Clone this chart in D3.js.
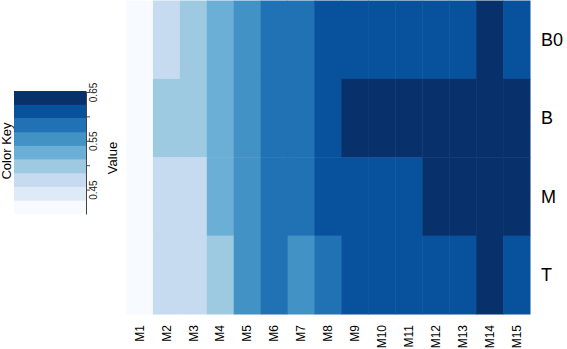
<!DOCTYPE html>
<html>
<head>
<meta charset="utf-8">
<script src="https://cdn.jsdelivr.net/npm/d3@7"></script>
<style>
  html, body { margin: 0; padding: 0; background: #fff; }
  svg { display: block; font-family: Arial, "Liberation Sans", sans-serif; }
</style>
</head>
<body>
<div id="chart"></div>
<script>
// Data: rows (top to bottom) x columns M1..M15
const columns = ['M1','M2','M3','M4','M5','M6','M7','M8','M9','M10','M11','M12','M13','M14','M15'];
const rows = ['B0', 'B', 'M', 'T'];

const valuesB0 = [0.41, 0.47, 0.50, 0.53, 0.555, 0.58, 0.585, 0.615, 0.62, 0.62, 0.62, 0.615, 0.615, 0.645, 0.62];
const valuesB  = [0.41, 0.50, 0.50, 0.53, 0.555, 0.58, 0.585, 0.615, 0.64, 0.64, 0.64, 0.64, 0.64, 0.65, 0.64];
const valuesM  = [0.41, 0.47, 0.47, 0.53, 0.555, 0.58, 0.585, 0.615, 0.62, 0.62, 0.62, 0.64, 0.64, 0.65, 0.64];
const valuesT  = [0.41, 0.47, 0.47, 0.50, 0.555, 0.58, 0.56, 0.585, 0.62, 0.62, 0.62, 0.62, 0.62, 0.645, 0.62];

const keyDomain = [0.40, 0.652];
const keyTicks = [0.45, 0.50, 0.55, 0.60, 0.65];
const keyTickLabels = ['0.45', '', '0.55', '', '0.65'];

const W = 567, H = 349;

const svg = d3.select('#chart').append('svg')
    .attr('width', W)
    .attr('height', H);

const color = d3.scaleQuantize()
    .domain(keyDomain)
    .range(d3.schemeBlues[9]);

// build cells table from the row arrays
const rowValues = [valuesB0, valuesB, valuesM, valuesT];
const cells = [];
rows.forEach((r, i) => {
    columns.forEach((c, j) => cells.push({ row: r, col: c, value: rowValues[i][j] }));
});

// Heatmap
const x = d3.scaleBand().domain(columns).range([126, 530]);
const y = d3.scaleBand().domain(rows).range([0.5, 314]);

svg.append('g')
    .selectAll('rect')
    .data(cells)
    .join('rect')
        .attr('x', d => x(d.col))
        .attr('y', d => y(d.row))
        .attr('width', x.bandwidth() + 0.5)
        .attr('height', y.bandwidth() + 0.5)
        .attr('fill', d => color(d.value));

// Column labels (rotated)
svg.append('g')
    .selectAll('text')
    .data(columns)
    .join('text')
        .attr('transform', d => `translate(${x(d) + x.bandwidth() / 2},325) rotate(-90)`)
        .attr('text-anchor', 'end')
        .attr('dy', '0.35em')
        .attr('font-size', '12px')
        .attr('fill', '#000')
        .text(d => d);

// Row labels
svg.append('g')
    .selectAll('text')
    .data(rows)
    .join('text')
        .attr('x', 541)
        .attr('y', d => y(d) + y.bandwidth() / 2)
        .attr('dy', '0.35em')
        .attr('font-size', '18px')
        .attr('fill', '#000')
        .text(d => d);

// Color key
const keyX = 14, keyW = 72;
const ky = d3.scaleLinear().domain(keyDomain).range([214, 91]);
const bins = color.range().map(c => color.invertExtent(c));

svg.append('g')
    .selectAll('rect')
    .data(bins)
    .join('rect')
        .attr('x', keyX)
        .attr('y', d => ky(d[1]))
        .attr('width', keyW)
        .attr('height', d => ky(d[0]) - ky(d[1]) + 0.3)
        .attr('fill', d => color((d[0] + d[1]) / 2));

const keyAxis = svg.append('g')
    .attr('transform', `translate(${keyX + keyW},0)`)
    .call(d3.axisRight(ky)
        .tickValues(keyTicks)
        .tickSize(4)
        .tickSizeOuter(0)
        .tickFormat((d, i) => keyTickLabels[i]));

keyAxis.select('.domain').attr('stroke', '#444').attr('stroke-width', 1);
keyAxis.selectAll('.tick line').attr('stroke', '#444');
keyAxis.selectAll('.tick text')
    .attr('font-size', '10px')
    .attr('font-family', 'Arial, "Liberation Sans", sans-serif')
    .attr('fill', '#222')
    .attr('x', 0)
    .attr('dy', 0)
    .attr('transform', 'translate(4,0) rotate(-90)')
    .attr('text-anchor', 'middle')
    .attr('dominant-baseline', 'hanging');

svg.append('text')
    .attr('transform', 'translate(112,158) rotate(-90)')
    .attr('text-anchor', 'middle')
    .attr('dy', '0.35em')
    .attr('font-size', '13px')
    .text('Value');

svg.append('text')
    .attr('transform', 'translate(6,151) rotate(-90)')
    .attr('text-anchor', 'middle')
    .attr('dy', '0.35em')
    .attr('font-size', '13px')
    .text('Color Key');
</script>
</body>
</html>
